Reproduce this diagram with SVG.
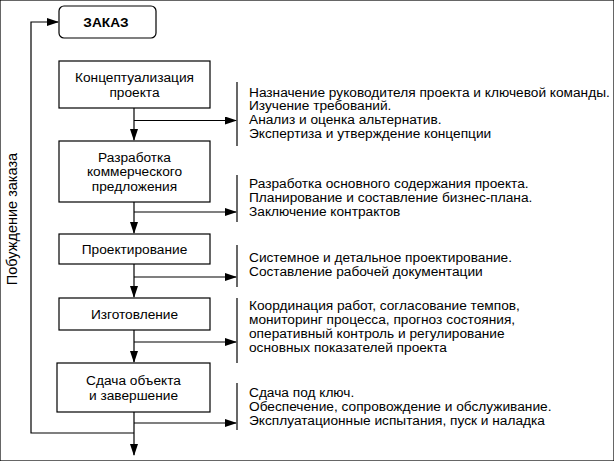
<svg xmlns="http://www.w3.org/2000/svg" width="614" height="461" viewBox="0 0 614 461">
<style>
text{font-family:"Liberation Sans",Arial,sans-serif;font-size:13.7px;fill:#000}
.c{text-anchor:middle}
.b{font-weight:bold}
rect{fill:#fff;stroke:#000;stroke-width:1.2}
.ln{fill:none;stroke:#000;stroke-width:1.2}
.br{stroke:#000;stroke-width:1.2}
</style>
<defs>
<marker id="ah" markerWidth="12" markerHeight="8" refX="11" refY="4" orient="auto" markerUnits="userSpaceOnUse">
<path d="M0,0 L12,4 L0,8 Z" fill="#000"/>
</marker>
</defs>
<rect width="614" height="461" fill="#fff" stroke="none"/>
<g id="connectors">
<path class="ln" d="M134,108 V140" marker-end="url(#ah)"/>
<path class="ln" d="M134,202 V233" marker-end="url(#ah)"/>
<path class="ln" d="M134,264 V297" marker-end="url(#ah)"/>
<path class="ln" d="M134,330 V362" marker-end="url(#ah)"/>
<path class="ln" d="M134,412 V455" marker-end="url(#ah)"/>
<path class="ln" d="M134,120.5 H236" marker-end="url(#ah)"/>
<path class="ln" d="M134,212 H236" marker-end="url(#ah)"/>
<path class="ln" d="M134,277 H236" marker-end="url(#ah)"/>
<path class="ln" d="M134,342 H236" marker-end="url(#ah)"/>
<path class="ln" d="M134,423 H236" marker-end="url(#ah)"/>
<path class="ln" d="M134,433 H31 V22 H58" marker-end="url(#ah)"/>
<line class="br" x1="237" y1="82" x2="237" y2="146"/>
<line class="br" x1="237" y1="175" x2="237" y2="222"/>
<line class="br" x1="237" y1="245" x2="237" y2="287"/>
<line class="br" x1="237" y1="298" x2="237" y2="363"/>
<line class="br" x1="237" y1="383" x2="237" y2="430"/>
</g>
<text transform="translate(17,219) rotate(-90)" class="c" style="font-size:14.5px">Побуждение заказа</text>
<g id="zakaz">
<rect x="59" y="6" width="97" height="32" rx="5"/>
<text x="106" y="27" class="c b">ЗАКАЗ</text>
</g>
<g id="concept">
<rect x="59" y="61" width="151" height="47"/>
<text x="134.5" y="82" class="c">Концептуализация</text>
<text x="134.5" y="96.5" class="c">проекта</text>
</g>
<g id="proposal">
<rect x="59" y="141" width="151" height="61"/>
<text x="134.5" y="161.5" class="c">Разработка</text>
<text x="134.5" y="176" class="c">коммерческого</text>
<text x="134.5" y="190.5" class="c">предложения</text>
</g>
<g id="design">
<rect x="59" y="234" width="151" height="30"/>
<text x="134.5" y="253.5" class="c">Проектирование</text>
</g>
<g id="manufacture">
<rect x="59" y="298" width="151" height="32"/>
<text x="134.5" y="318.5" class="c">Изготовление</text>
</g>
<g id="delivery">
<rect x="57" y="363" width="153" height="49"/>
<text x="133.5" y="385" class="c">Сдача объекта</text>
<text x="133.5" y="399.5" class="c">и завершение</text>
</g>
<g id="notes1">
<text x="249" y="96.5">Назначение руководителя проекта и ключевой команды.</text>
<text x="249" y="110.3">Изучение требований.</text>
<text x="249" y="124.1">Анализ и оценка альтернатив.</text>
<text x="249" y="137.9">Экспертиза и утверждение концепции</text>
</g>
<g id="notes2">
<text x="249" y="188">Разработка основного содержания проекта.</text>
<text x="249" y="202">Планирование и составление бизнес-плана.</text>
<text x="249" y="216">Заключение контрактов</text>
</g>
<g id="notes3">
<text x="249" y="262">Системное и детальное проектирование.</text>
<text x="249" y="276">Составление рабочей документации</text>
</g>
<g id="notes4">
<text x="249" y="310">Координация работ, согласование темпов,</text>
<text x="249" y="324">мониторинг процесса, прогноз состояния,</text>
<text x="249" y="338">оперативный контроль и регулирование</text>
<text x="249" y="352">основных показателей проекта</text>
</g>
<g id="notes5">
<text x="249" y="397">Сдача под ключ.</text>
<text x="249" y="411">Обеспечение, сопровождение и обслуживание.</text>
<text x="249" y="425">Эксплуатационные испытания, пуск и наладка</text>
</g>
</svg>
